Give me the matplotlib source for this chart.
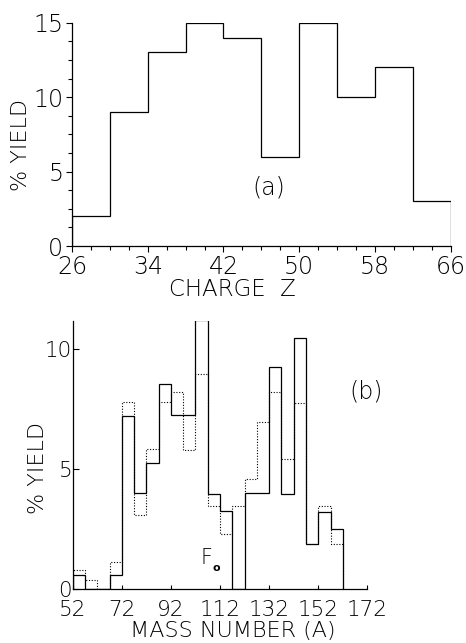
import matplotlib
matplotlib.use("Agg")
import matplotlib.pyplot as plt
from matplotlib.ticker import MultipleLocator

plt.rcParams["font.family"] = ["DejaVu Sans"]
plt.rcParams["font.weight"] = "light"

# panel (a): charge distribution
z_edges = [26, 30, 34, 38, 42, 46, 50, 54, 58, 62, 66]
z_yield = [2, 9, 13, 15, 14, 6, 15, 10, 12, 3]

# panel (b): mass distribution, solid and dotted histograms
a_edges = [52, 57, 62, 67, 72, 77, 82, 87, 92, 97, 102, 107, 112, 117,
           122, 127, 132, 137, 142, 147, 152, 157, 162]
a_solid = [0.6, 0, 0, 0.6, 7.2, 4.0, 5.25, 8.55, 7.25, 7.25, 11.2, 3.95,
           3.25, 0, 4.0, 4.0, 9.25, 3.95, 10.45, 1.9, 3.2, 2.5]
a_dotted = [0.8, 0.4, 0, 1.15, 7.8, 3.1, 5.85, 7.8, 8.2, 5.8, 8.95, 3.45,
            2.3, 3.45, 4.6, 6.95, 8.2, 5.4, 7.75, 1.9, 3.45, 1.9]

fig = plt.figure(figsize=(4.66, 6.43), dpi=100)

# ---- (a)
ax1 = fig.add_axes([0.1545, 0.6174, 0.8127, 0.3473])
ax1.stairs(z_yield, z_edges, color="black", lw=0.9, baseline=0)
ax1.set_xlim(26, 66)
ax1.set_ylim(0, 15)
ax1.set_xticks([26, 34, 42, 50, 58, 66])
ax1.xaxis.set_minor_locator(MultipleLocator(2))
ax1.yaxis.set_major_locator(MultipleLocator(5))
ax1.yaxis.set_minor_locator(MultipleLocator(1.25))
ax1.tick_params(which="major", direction="out", length=4.3, width=0.8,
                labelsize=17)
ax1.tick_params(which="minor", direction="out", length=3, width=0.8)
ax1.tick_params(axis="x", which="major", pad=2.5)
ax1.tick_params(axis="y", which="major", pad=2)
ax1.text(-0.135, 0.452, "% YIELD", transform=ax1.transAxes, rotation=90,
         ha="center", va="center", fontsize=16)
ax1.text(0.424, -0.196, "CHARGE  Z", transform=ax1.transAxes,
         ha="center", va="center", fontsize=16.5)
ax1.text(46.8, 3.96, "(a)", ha="center", va="center", fontsize=17)

# ---- (b)
ax2 = fig.add_axes([0.156, 0.0835, 0.6324, 0.4173])
ax2.stairs(a_dotted, a_edges, color="black", lw=0.8, ls=(0, (1, 1.5)),
           baseline=0)
ax2.stairs(a_solid, a_edges, color="black", lw=0.9, baseline=0)
ax2.set_xlim(52, 172)
ax2.set_ylim(0, 11.15)
ax2.set_xticks([52, 72, 92, 112, 132, 152, 172])
ax2.set_yticks([0, 5, 10])
ax2.tick_params(direction="in", width=0.8, labelsize=15.5)
ax2.tick_params(axis="y", length=4, pad=0.5)
ax2.tick_params(axis="x", length=3, pad=7.5)
ax2.text(-0.118, 0.452, "% YIELD", transform=ax2.transAxes, rotation=90,
         ha="center", va="center", fontsize=16)
ax2.text(0.542, -0.155, "MASS NUMBER (A)", transform=ax2.transAxes,
         ha="center", va="center", fontsize=16)
ax2.text(171.4, 8.2, "(b)", ha="center", va="center", fontsize=17,
         clip_on=False)
ax2.text(106.6, 1.3, "F", ha="center", va="center", fontsize=15)
ax2.text(110.4, 0.9, "o", ha="center", va="center", fontsize=8,
         fontweight="bold")

for ax in (ax1, ax2):
    ax.spines["top"].set_visible(False)
    ax.spines["right"].set_visible(False)
    ax.spines["left"].set_linewidth(0.9)
    ax.spines["bottom"].set_linewidth(0.9)

fig.savefig("out.png", dpi=100)
